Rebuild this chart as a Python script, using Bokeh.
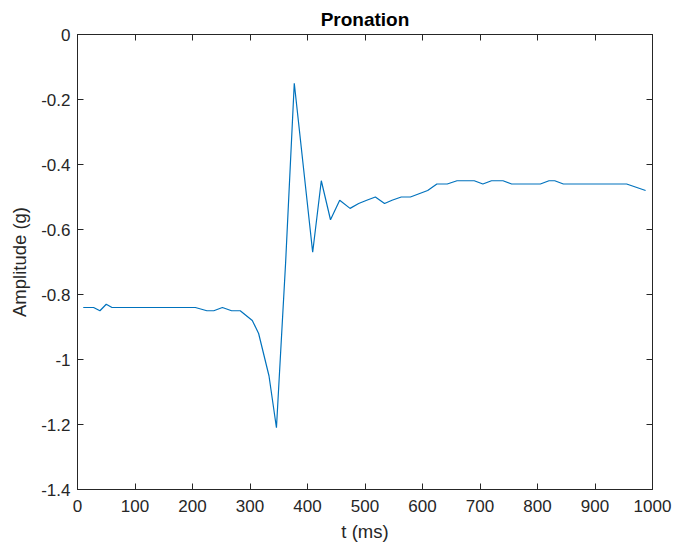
from bokeh.plotting import figure
from bokeh.models import LinearAxis, FixedTicker, Range1d, CustomLabelingPolicy
from bokeh.embed import file_html
from bokeh.resources import INLINE

# Pronation trace: time (ms) and acceleration amplitude (g)
t_ms = [10, 28, 39, 50, 60, 205, 225, 237, 252, 268, 283, 304, 315, 333, 346,
        362, 377, 409, 424, 440, 456, 474, 489, 503, 518, 534, 547, 563, 579,
        594, 609, 625, 643, 660, 690, 705, 720, 740, 755, 805, 820, 830, 845,
        955, 988]
amplitude_g = [-0.84, -0.84, -0.85, -0.83, -0.84, -0.84, -0.85, -0.85, -0.84,
               -0.85, -0.85, -0.88, -0.92, -1.05, -1.21, -0.70, -0.15, -0.67,
               -0.45, -0.57, -0.51, -0.535, -0.52, -0.51, -0.50, -0.52, -0.51,
               -0.50, -0.50, -0.49, -0.48, -0.46, -0.46, -0.45, -0.45, -0.46,
               -0.45, -0.45, -0.46, -0.46, -0.45, -0.45, -0.46, -0.46, -0.48]

x_ticks = [0, 100, 200, 300, 400, 500, 600, 700, 800, 900, 1000]
x_tick_labels = ["0", "100", "200", "300", "400", "500", "600", "700", "800",
                 "900", "1000"]
y_ticks = [0, -0.2, -0.4, -0.6, -0.8, -1.0, -1.2, -1.4]
y_tick_labels = ["0", "-0.2", "-0.4", "-0.6", "-0.8", "-1", "-1.2", "-1.4"]

FONT = "Liberation Sans"
AX = "#262626"

p = figure(frame_width=575, frame_height=455,
           min_border_left=77, min_border_right=35,
           min_border_top=34, min_border_bottom=59,
           x_range=Range1d(0, 1000), y_range=Range1d(-1.4, 0),
           output_backend="svg", toolbar_location=None)

p.title.text = "Pronation"
p.title.align = "center"
p.title.text_font = FONT
p.title.text_font_size = "19px"
p.title.text_font_style = "bold"
p.title.text_color = "#000000"

p.grid.visible = False
p.background_fill_color = "white"
p.border_fill_color = "white"
p.outline_line_color = AX
p.outline_line_width = 1

# box axes on top/right carry tick marks only; this policy keeps no labels
no_labels = CustomLabelingPolicy(code="for (const i of indices) { if (i < 0) yield i }")


def style_axis(ax, labels=True):
    ax.axis_line_color = AX
    ax.major_tick_line_color = AX
    ax.major_tick_in = 6
    ax.major_tick_out = 0
    ax.minor_tick_line_color = None
    ax.major_label_text_font = FONT
    ax.major_label_text_color = AX
    ax.axis_label_text_font = FONT
    ax.axis_label_text_color = AX
    ax.axis_label_text_font_style = "normal"
    ax.axis_label_text_font_size = "18.5px"
    if labels:
        ax.major_label_text_font_size = "17px"
    else:
        ax.major_label_text_font_size = "0px"
        ax.major_label_policy = no_labels
        ax.major_label_standoff = 0


xb = p.xaxis[0]
xb.ticker = FixedTicker(ticks=x_ticks)
xb.major_label_overrides = dict(zip(x_ticks, x_tick_labels))
xb.axis_label = "t (ms)"
style_axis(xb)
xb.major_label_standoff = 10
xb.axis_label_standoff = 6

yl = p.yaxis[0]
yl.ticker = FixedTicker(ticks=y_ticks)
yl.major_label_overrides = dict(zip(y_ticks, y_tick_labels))
yl.axis_label = "Amplitude (g)"
style_axis(yl)
yl.major_label_standoff = 7
yl.axis_label_standoff = 8

top = LinearAxis(ticker=FixedTicker(ticks=x_ticks))
style_axis(top, labels=False)
p.add_layout(top, "above")

right = LinearAxis(ticker=FixedTicker(ticks=y_ticks))
style_axis(right, labels=False)
p.add_layout(right, "right")

p.line(t_ms, amplitude_g, line_color="#0072BD", line_width=1.2)

open("out.html", "w").write(file_html(p, INLINE))
